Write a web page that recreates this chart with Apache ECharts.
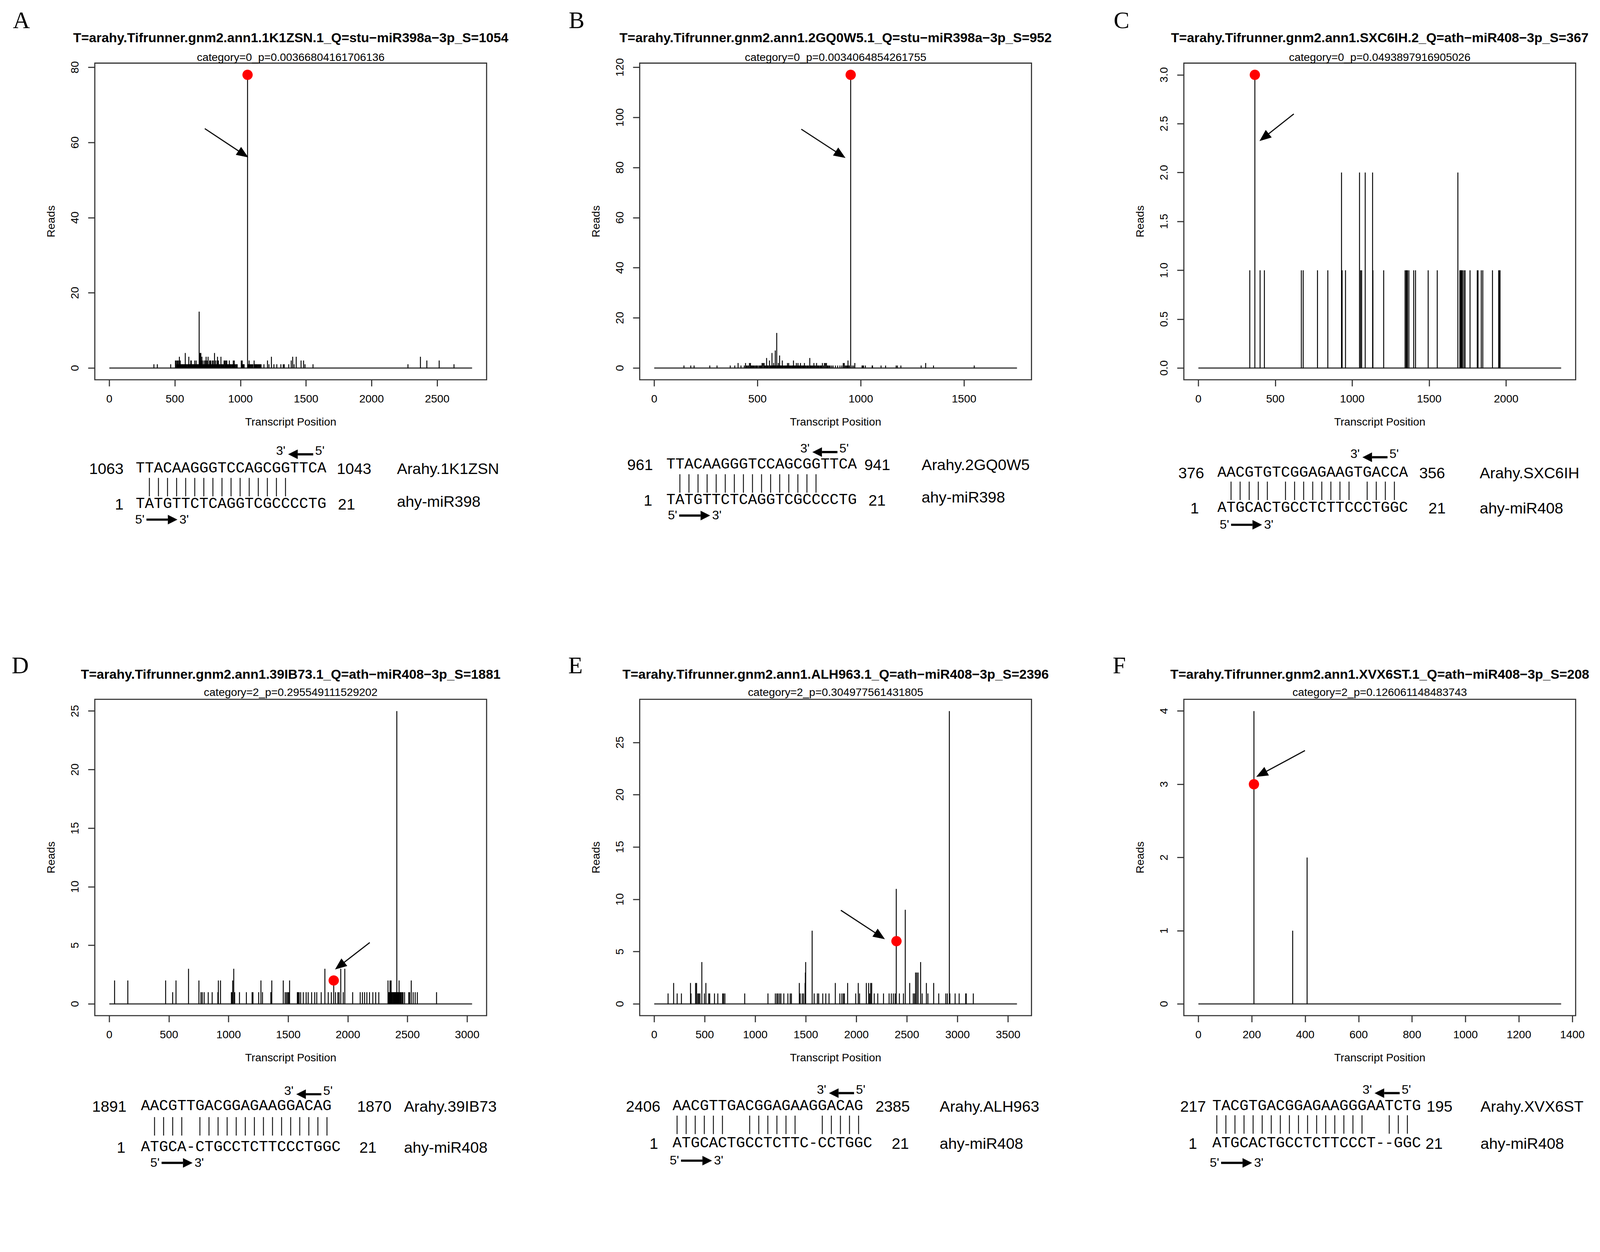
<!DOCTYPE html>
<html>
<head>
<meta charset="utf-8">
<title>Degradome target plots</title>
<script src="https://cdn.jsdelivr.net/npm/echarts@6/dist/echarts.min.js"></script>
<style>
    html, body { margin: 0; padding: 0; background: #fff; overflow: hidden; }
    #chart { width: 4337px; height: 3204px; transform-origin: 0 0; }
</style>
</head>
<body>
<div id="chart"></div>
<script>
// ---- panel A ----
var titleA = 'T=arahy.Tifrunner.gnm2.ann1.1K1ZSN.1_Q=stu\u2212miR398a\u22123p_S=1054';
var subA = 'category=0_p=0.00366804161706136';
var lenA = 2766;
var xTicksA = [0, 500, 1000, 1500, 2000, 2500];
var yTicksA = [0, 20, 40, 60, 80];
var posA = [340, 366, 468, 504, 511, 516, 519, 523, 526, 530, 534, 538, 541, 545, 549, 553, 557, 561, 566, 571, 575, 579, 583, 587, 592, 598, 602, 606, 610, 613, 617, 621, 625, 629, 632, 636, 640, 643, 647, 651, 655, 658, 662, 666, 670, 674, 678, 681, 685, 689, 692, 695, 698, 702, 706, 710, 715, 719, 723, 727, 730, 734, 738, 742, 745, 749, 753, 757, 760, 764, 768, 772, 775, 779, 783, 787, 792, 797, 802, 806, 809, 813, 817, 821, 825, 829, 832, 836, 840, 845, 851, 855, 858, 864, 870, 875, 881, 885, 889, 893, 896, 900, 904, 909, 915, 919, 923, 928, 934, 939, 945, 949, 953, 958, 964, 970, 975, 1006, 1010, 1013, 1017, 1021, 1025, 1028, 1054, 1058, 1062, 1066, 1071, 1077, 1083, 1089, 1095, 1104, 1107, 1111, 1117, 1123, 1128, 1134, 1140, 1145, 1151, 1157, 1179, 1206, 1217, 1236, 1255, 1277, 1308, 1326, 1334, 1368, 1387, 1398, 1409, 1425, 1462, 1481, 1492, 1553, 2277, 2372, 2421, 2515, 2628];
var readsA = [1, 1, 1, 2, 2, 1, 2, 1, 2, 1, 3, 1, 2, 1, 1, 1, 1, 1, 1, 1, 1, 4, 1, 1, 1, 1, 1, 3, 1, 1, 1, 2, 2, 1, 1, 1, 1, 1, 1, 2, 1, 1, 2, 1, 1, 1, 1, 1, 15, 1, 4, 1, 4, 2, 3, 1, 2, 1, 1, 2, 2, 1, 3, 1, 2, 1, 3, 1, 1, 2, 2, 1, 2, 1, 1, 2, 2, 1, 4, 1, 2, 1, 1, 2, 3, 1, 2, 1, 1, 1, 3, 1, 1, 1, 1, 2, 2, 1, 2, 1, 2, 1, 1, 1, 2, 1, 1, 1, 1, 1, 2, 1, 2, 1, 1, 1, 1, 2, 1, 2, 1, 1, 1, 1, 78, 1, 1, 2, 1, 1, 1, 1, 1, 2, 1, 1, 1, 1, 1, 1, 1, 1, 1, 1, 1, 2, 1, 3, 1, 1, 1, 1, 1, 1, 2, 3, 1, 3, 2, 2, 1, 1, 1, 3, 2, 2, 1];
var siteA = [1054, 78];
var arrowA = [[728, 63.7], [1022, 56.9]];

// ---- panel B ----
var titleB = 'T=arahy.Tifrunner.gnm2.ann1.2GQ0W5.1_Q=stu\u2212miR398a\u22123p_S=952';
var subB = 'category=0_p=0.0034064854261755';
var lenB = 1756;
var xTicksB = [0, 500, 1000, 1500];
var yTicksB = [0, 20, 40, 60, 80, 100, 120];
var posB = [144, 177, 193, 269, 304, 368, 390, 406, 420, 436, 442, 446, 451, 456, 461, 466, 470, 474, 478, 482, 487, 492, 496, 500, 506, 511, 515, 518, 522, 527, 532, 536, 540, 544, 547, 550, 553, 558, 561, 563, 566, 570, 573, 575, 578, 581, 583, 586, 589, 593, 596, 598, 601, 604, 607, 610, 613, 616, 620, 623, 627, 631, 634, 638, 641, 645, 648, 651, 655, 659, 663, 667, 670, 674, 677, 681, 685, 688, 692, 696, 700, 704, 708, 712, 716, 720, 723, 727, 731, 735, 740, 744, 748, 753, 757, 761, 765, 769, 773, 777, 782, 786, 790, 794, 797, 802, 806, 810, 814, 819, 824, 829, 834, 838, 842, 847, 852, 859, 866, 877, 888, 899, 908, 915, 920, 925, 930, 934, 938, 943, 945, 951, 958, 965, 971, 1006, 1010, 1013, 1022, 1055, 1057, 1098, 1120, 1171, 1177, 1194, 1292, 1314, 1352, 1549];
var readsB = [1, 1, 1, 1, 1, 1, 1, 2, 1, 1, 2, 1, 1, 1, 2, 2, 1, 1, 1, 1, 1, 1, 1, 1, 1, 1, 1, 1, 2, 2, 2, 1, 1, 4, 1, 1, 1, 3, 1, 1, 1, 6, 1, 1, 2, 1, 1, 7, 1, 14, 1, 1, 2, 1, 5, 1, 1, 1, 3, 1, 1, 1, 1, 1, 1, 2, 1, 2, 1, 1, 1, 1, 1, 3, 1, 1, 1, 2, 1, 2, 1, 1, 2, 1, 1, 1, 1, 2, 1, 1, 1, 1, 1, 4, 1, 1, 1, 1, 2, 1, 1, 2, 1, 1, 1, 1, 1, 1, 2, 1, 2, 2, 2, 1, 1, 1, 1, 1, 1, 1, 1, 1, 1, 2, 2, 1, 1, 1, 3, 1, 1, 117, 1, 1, 2, 1, 1, 1, 1, 1, 1, 1, 1, 1, 1, 1, 1, 2, 1, 1];
var siteB = [951, 117];
var arrowB = [[712, 95.3], [902, 85.1]];

// ---- panel C ----
var titleC = 'T=arahy.Tifrunner.gnm2.ann1.SXC6IH.2_Q=ath\u2212miR408\u22123p_S=367';
var subC = 'category=0_p=0.0493897916905026';
var lenC = 2357;
var xTicksC = [0, 500, 1000, 1500, 2000];
var yTicksC = [0, 0.5, 1, 1.5, 2, 2.5, 3];
var posC = [334, 367, 401, 429, 669, 681, 774, 841, 930, 934, 956, 1047, 1054, 1061, 1084, 1132, 1134, 1204, 1343, 1350, 1355, 1359, 1368, 1399, 1411, 1493, 1552, 1686, 1699, 1703, 1707, 1712, 1716, 1725, 1733, 1765, 1812, 1817, 1838, 1848, 1911, 1951, 1956, 1960];
var readsC = [1, 3, 1, 1, 1, 1, 1, 1, 2, 1, 1, 2, 1, 1, 2, 2, 1, 1, 1, 1, 1, 1, 1, 1, 1, 1, 1, 2, 1, 1, 1, 1, 1, 1, 1, 1, 1, 1, 1, 1, 1, 1, 1, 1];
var siteC = [367, 3];
var arrowC = [[620, 2.60], [427, 2.36]];

// ---- panel D ----
var titleD = 'T=arahy.Tifrunner.gnm2.ann1.39IB73.1_Q=ath\u2212miR408\u22123p_S=1881';
var subD = 'category=2_p=0.295549111529202';
var lenD = 3041;
var xTicksD = [0, 500, 1000, 1500, 2000, 2500, 3000];
var yTicksD = [0, 5, 10, 15, 20, 25];
var posD = [44, 155, 472, 531, 559, 664, 751, 768, 779, 795, 829, 862, 910, 914, 932, 1023, 1030, 1034, 1043, 1051, 1091, 1149, 1197, 1204, 1252, 1271, 1284, 1354, 1358, 1362, 1458, 1474, 1485, 1495, 1504, 1511, 1576, 1583, 1591, 1604, 1626, 1650, 1667, 1696, 1722, 1739, 1776, 1807, 1835, 1861, 1881, 1896, 1916, 1926, 1940, 1961, 1974, 2040, 2103, 2122, 2140, 2159, 2181, 2209, 2233, 2259, 2336, 2340, 2344, 2349, 2353, 2358, 2362, 2368, 2373, 2379, 2384, 2388, 2394, 2399, 2404, 2410, 2414, 2418, 2424, 2429, 2434, 2441, 2447, 2455, 2462, 2475, 2510, 2518, 2531, 2547, 2564, 2582, 2743];
var readsD = [2, 2, 2, 1, 2, 3, 2, 1, 1, 1, 1, 1, 1, 2, 2, 1, 1, 2, 3, 1, 1, 1, 1, 1, 1, 2, 1, 1, 1, 2, 2, 1, 1, 1, 1, 2, 1, 1, 1, 1, 1, 1, 1, 1, 1, 1, 1, 3, 1, 1, 2, 1, 1, 1, 3, 1, 3, 1, 1, 1, 1, 1, 1, 1, 1, 1, 2, 1, 1, 1, 2, 1, 2, 1, 1, 1, 1, 1, 1, 1, 1, 25, 1, 1, 1, 2, 1, 1, 1, 1, 1, 1, 1, 1, 2, 1, 1, 1, 1];
var siteD = [1881, 2];
var arrowD = [[2183, 5.24], [1931, 3.25]];

// ---- panel E ----
var titleE = 'T=arahy.Tifrunner.gnm2.ann1.ALH963.1_Q=ath\u2212miR408\u22123p_S=2396';
var subE = 'category=2_p=0.304977561431805';
var lenE = 3588;
var xTicksE = [0, 500, 1000, 1500, 2000, 2500, 3000, 3500];
var yTicksE = [0, 5, 10, 15, 20, 25];
var posE = [137, 192, 227, 269, 359, 364, 409, 419, 431, 441, 452, 471, 496, 511, 539, 549, 596, 629, 677, 686, 699, 895, 1125, 1198, 1213, 1225, 1240, 1253, 1282, 1322, 1345, 1357, 1435, 1444, 1464, 1477, 1492, 1495, 1498, 1562, 1582, 1614, 1627, 1667, 1697, 1729, 1791, 1836, 1856, 1871, 1881, 1913, 1993, 2018, 2031, 2098, 2121, 2131, 2141, 2151, 2176, 2211, 2268, 2323, 2345, 2365, 2383, 2394, 2425, 2465, 2483, 2527, 2562, 2575, 2585, 2597, 2610, 2635, 2650, 2692, 2707, 2764, 2814, 2884, 2899, 2919, 2924, 2976, 3016, 3081, 3086, 3156];
var readsE = [1, 2, 1, 1, 2, 1, 2, 2, 1, 1, 1, 4, 1, 2, 1, 1, 1, 1, 1, 1, 1, 1, 1, 1, 1, 1, 1, 1, 1, 1, 1, 1, 2, 1, 1, 1, 2, 3, 4, 7, 1, 1, 1, 1, 1, 1, 2, 1, 1, 1, 1, 2, 1, 2, 1, 2, 2, 1, 2, 2, 1, 1, 1, 1, 1, 1, 1, 11, 1, 1, 9, 2, 1, 1, 3, 3, 3, 4, 1, 2, 1, 2, 1, 1, 1, 28, 1, 1, 1, 1, 1, 1];
var siteE = [2396, 6];
var arrowE = [[1846, 8.95], [2233, 6.5]];

// ---- panel F ----
var titleF = 'T=arahy.Tifrunner.gnm2.ann1.XVX6ST.1_Q=ath\u2212miR408\u22123p_S=208';
var subF = 'category=2_p=0.126061148483743';
var lenF = 1358;
var xTicksF = [0, 200, 400, 600, 800, 1000, 1200, 1400];
var yTicksF = [0, 1, 2, 3, 4];
var posF = [208, 353, 407];
var readsF = [4, 1, 2];
var siteF = [208, 3];
var arrowF = [[399, 3.46], [236, 3.14]];

// ---- alignments (target row, pairing row, miRNA row) ----
var alignTarget = ['TTACAAGGGTCCAGCGGTTCA', 'TTACAAGGGTCCAGCGGTTCA', 'AACGTGTCGGAGAAGTGACCA',
    'AACGTTGACGGAGAAGGACAG', 'AACGTTGACGGAGAAGGACAG', 'TACGTGACGGAGAAGGGAATCTG'];
var alignPairs = [' ||||||||||||||||    ', ' ||||||||||||||||    ', ' ||||| |||||||| |||| ',
    ' |||| |||||||||||||||', '||||||  ||||||  |||||', '|||||||||||||||||  ||| '];
var alignMir = ['TATGTTCTCAGGTCGCCCCTG', 'TATGTTCTCAGGTCGCCCCTG', 'ATGCACTGCCTCTTCCCTGGC',
    'ATGCA-CTGCCTCTTCCCTGGC', 'ATGCACTGCCTCTTC-CCTGGC', 'ATGCACTGCCTCTTCCCT--GGC'];
var alignTargetStart = ['1063', '961', '376', '1891', '2406', '217'];
var alignTargetEnd = ['1043', '941', '356', '1870', '2385', '195'];
var alignGene = ['Arahy.1K1ZSN', 'Arahy.2GQ0W5', 'Arahy.SXC6IH', 'Arahy.39IB73', 'Arahy.ALH963', 'Arahy.XVX6ST'];
var alignMirName = ['ahy-miR398', 'ahy-miR398', 'ahy-miR408', 'ahy-miR408', 'ahy-miR408', 'ahy-miR408'];

(function () {
    var FONT = '"Liberation Sans", Arial, sans-serif';
    var MONO = '"Liberation Mono", "Courier New", monospace';
    var SEQ_SIZE = 41;
    var CHAR_W = SEQ_SIZE * 0.6;   // monospace advance
    var BOX_W = 1062;
    var PAGE_W = 4337, PAGE_H = 3204;

    // the layout is drawn at 4337x3204; fit it to whatever viewport we get
    var dom = document.getElementById('chart');
    var fit = Math.min(window.innerWidth / PAGE_W, window.innerHeight / PAGE_H);
    dom.style.transform = 'scale(' + fit + ')';

    var panels = [
        {letter: 'A', title: titleA, sub: subA, len: lenA, xt: xTicksA, yt: yTicksA, pos: posA, reads: readsA, site: siteA, arrow: arrowA, ymax: 78,
            left: 257, top: 171, h: 858, lx: 58, ly: 55, ty: 102, sy: 155,
            al: {seqX: 368, y35: 1223, yTop: 1270, yBar: 1320, yBot: 1366, y53: 1402, c35: 761, c53: 379, lNum: 335, lNum2: 335, rNum: 913, rNum2: 916, name: 1076, name2Y: 1358}},
        {letter: 'B', title: titleB, sub: subB, len: lenB, xt: xTicksB, yt: yTicksB, pos: posB, reads: readsB, site: siteB, arrow: arrowB, ymax: 117,
            left: 1734, top: 171, h: 858, lx: 1563, ly: 55, ty: 102, sy: 155,
            al: {seqX: 1806, y35: 1217, yTop: 1259, yBar: 1310, yBot: 1355, y53: 1391, c35: 2182, c53: 1823, lNum: 1770, lNum2: 1768, rNum: 2343, rNum2: 2354, name: 2498, name2Y: 1347}},
        {letter: 'C', title: titleC, sub: subC, len: lenC, xt: xTicksC, yt: yTicksC, pos: posC, reads: readsC, site: siteC, arrow: arrowC, ymax: 3,
            left: 3209, top: 171, h: 858, lx: 3040, ly: 55, ty: 102, sy: 155,
            al: {seqX: 3300, y35: 1231, yTop: 1281, yBar: 1330, yBot: 1377, y53: 1416, c35: 3673, c53: 3319, lNum: 3264, lNum2: 3250, rNum: 3847, rNum2: 3872, name: 4011, name2Y: 1377}},
        {letter: 'D', title: titleD, sub: subD, len: lenD, xt: xTicksD, yt: yTicksD, pos: posD, reads: readsD, site: siteD, arrow: arrowD, ymax: 25,
            left: 257, top: 1895, h: 857, lx: 55, ly: 1803, ty: 1826, sy: 1875,
            al: {seqX: 382, y35: 2957, yTop: 2998, yBar: 3052, yBot: 3109, y53: 3145, c35: 783, c53: 420, lNum: 343, lNum2: 340, rNum: 968, rNum2: 974, name: 1095, name2Y: 3109}},
        {letter: 'E', title: titleE, sub: subE, len: lenE, xt: xTicksE, yt: yTicksE, pos: posE, reads: readsE, site: siteE, arrow: arrowE, ymax: 28,
            left: 1734, top: 1895, h: 857, lx: 1560, ly: 1803, ty: 1826, sy: 1875,
            al: {seqX: 1823, y35: 2954, yTop: 2998, yBar: 3048, yBot: 3098, y53: 3139, c35: 2227, c53: 1828, lNum: 1790, lNum2: 1784, rNum: 2373, rNum2: 2417, name: 2547, name2Y: 3098}},
        {letter: 'F', title: titleF, sub: subF, len: lenF, xt: xTicksF, yt: yTicksF, pos: posF, reads: readsF, site: siteF, arrow: arrowF, ymax: 4,
            left: 3209, top: 1895, h: 857, lx: 3034, ly: 1803, ty: 1826, sy: 1875,
            al: {seqX: 3286, y35: 2954, yTop: 2998, yBar: 3047, yBot: 3098, y53: 3145, c35: 3706, c53: 3292, lNum: 3269, lNum2: 3245, rNum: 3867, rNum2: 3864, name: 4013, name2Y: 3098}}
    ];

    var grids = [], xAxes = [], yAxes = [], series = [], graphics = [];

    function txt(x, y, text, font, align) {
        graphics.push({
            type: 'text', x: x, y: y, silent: true,
            style: {text: text, font: font, fill: '#000', textAlign: align || 'left', textVerticalAlign: 'middle'}
        });
    }

    // thick arrow with a filled head, used in the alignment text
    function arrowShape(xTail, xTip, y) {
        var dir = xTip > xTail ? 1 : -1;
        var headLen = 26;
        graphics.push({type: 'line', silent: true,
            shape: {x1: xTail, y1: y, x2: xTip - dir * headLen, y2: y},
            style: {stroke: '#000', lineWidth: 6}});
        graphics.push({type: 'polygon', silent: true,
            shape: {points: [[xTip, y], [xTip - dir * headLen, y - 13], [xTip - dir * headLen, y + 13]]},
            style: {fill: '#000'}});
    }

    // base-pairing ticks, one per '|' in the pairing string
    function pairBars(seqX, yMid, pairs) {
        for (var k = 0; k < pairs.length; k++) {
            if (pairs.charAt(k) !== '|') continue;
            var x = seqX + CHAR_W * (k + 0.5);
            graphics.push({type: 'line', silent: true,
                shape: {x1: x, y1: yMid - 25, x2: x, y2: yMid + 25},
                style: {stroke: '#111', lineWidth: 2.5}});
        }
    }

    function plain(v) {
        return String(v);
    }

    panels.forEach(function (p, i) {
        var cx = p.left + BOX_W / 2;
        grids.push({
            left: p.left, top: p.top, width: BOX_W, height: p.h,
            show: true, borderColor: '#333', borderWidth: 3, backgroundColor: 'transparent'
        });
        xAxes.push({
            type: 'value', gridIndex: i,
            min: -0.04 * p.len, max: 1.04 * p.len,
            axisLine: {show: false, onZero: false},
            axisTick: {show: true, customValues: p.xt, length: 18, lineStyle: {color: '#333', width: 3}},
            axisLabel: {customValues: p.xt, margin: 36, fontSize: 30, color: '#000', fontFamily: FONT, formatter: plain},
            splitLine: {show: false},
            name: 'Transcript Position', nameLocation: 'middle', nameGap: 98,
            nameTextStyle: {fontSize: 30, color: '#000', fontFamily: FONT}
        });
        yAxes.push({
            type: 'value', gridIndex: i,
            min: -0.04 * p.ymax, max: 1.04 * p.ymax,
            axisLine: {show: false, onZero: false},
            axisTick: {show: true, customValues: p.yt, length: 18, lineStyle: {color: '#333', width: 3}},
            axisLabel: {
                customValues: p.yt, margin: 40, fontSize: 30, color: '#000', fontFamily: FONT, rotate: 90,
                formatter: function (v) {
                    return p.letter === 'C' ? v.toFixed(1) : String(v);
                }
            },
            splitLine: {show: false},
            name: 'Reads', nameLocation: 'middle', nameGap: 104,
            nameTextStyle: {fontSize: 30, color: '#000', fontFamily: FONT}
        });

        // zero line along the transcript
        series.push({
            type: 'line', xAxisIndex: i, yAxisIndex: i,
            data: [[0, 0], [p.len, 0]],
            symbol: 'none', silent: true, z: 2,
            lineStyle: {color: '#555', width: 4}
        });
        // read counts as vertical sticks (R type = "h")
        series.push({
            type: 'custom', xAxisIndex: i, yAxisIndex: i, silent: true, z: 3,
            data: p.pos.map(function (x, k) { return [x, p.reads[k]]; }),
            renderItem: function (params, api) {
                var a = api.coord([api.value(0), 0]);
                var b = api.coord([api.value(0), api.value(1)]);
                return {
                    type: 'line',
                    shape: {x1: a[0], y1: a[1], x2: b[0], y2: b[1]},
                    style: {stroke: '#000', lineWidth: 2.5}
                };
            }
        });
        // cleavage site + arrow
        series.push({
            type: 'scatter', xAxisIndex: i, yAxisIndex: i, silent: true, z: 5,
            data: [p.site], symbolSize: 28,
            itemStyle: {color: '#ff0000', opacity: 1},
            markLine: {
                silent: true, symbol: ['none', 'triangle'], symbolSize: [26, 32],
                label: {show: false},
                lineStyle: {color: '#000', width: 3, type: 'solid'},
                data: [[{coord: p.arrow[0]}, {coord: p.arrow[1]}]]
            }
        });

        // panel letter, title, subtitle
        txt(p.lx, p.ly, p.letter, '64px "Liberation Serif", "Times New Roman", serif', 'center');
        txt(cx, p.ty, p.title, 'bold 36px ' + FONT, 'center');
        txt(cx, p.sy, p.sub, '30px ' + FONT, 'center');

        // alignment block
        var a = p.al;
        var numFont = '42px ' + FONT;
        var seqFont = SEQ_SIZE + 'px ' + MONO;
        var primeFont = '34px ' + FONT;
        txt(a.c35, a.y35 - 2, "3'", primeFont, 'center');
        arrowShape(a.c35 + 88, a.c35 + 20, a.y35 + 8);
        txt(a.c35 + 106, a.y35 - 2, "5'", primeFont, 'center');

        txt(a.lNum, a.yTop, alignTargetStart[i], numFont, 'right');
        txt(a.seqX, a.yTop, alignTarget[i], seqFont, 'left');
        txt(a.rNum, a.yTop, alignTargetEnd[i], numFont, 'left');
        txt(a.name, a.yTop, alignGene[i], numFont, 'left');

        pairBars(a.seqX, a.yBar, alignPairs[i]);

        txt(a.lNum2, a.yBot, '1', numFont, 'right');
        txt(a.seqX, a.yBot, alignMir[i], seqFont, 'left');
        txt(a.rNum2, a.yBot, '21', numFont, 'left');
        txt(a.name, a.name2Y, alignMirName[i], numFont, 'left');

        txt(a.c53, a.y53 + 5, "5'", primeFont, 'center');
        arrowShape(a.c53 + 18, a.c53 + 102, a.y53 + 6);
        txt(a.c53 + 120, a.y53 + 5, "3'", primeFont, 'center');
    });

    var chart = echarts.init(dom, null, {renderer: 'svg', width: PAGE_W, height: PAGE_H});
    chart.setOption({
        animation: false,
        backgroundColor: '#fff',
        grid: grids,
        xAxis: xAxes,
        yAxis: yAxes,
        series: series,
        graphic: {elements: graphics}
    });
})();
</script>
</body>
</html>
